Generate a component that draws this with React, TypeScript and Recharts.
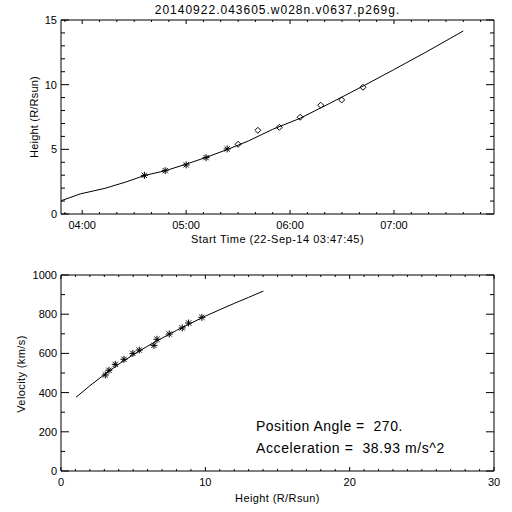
import React from "react";
import { ComposedChart, Line, Scatter, XAxis, YAxis } from "recharts";

// top panel: height vs time (minutes since 00:00 on 22-Sep-14)
const starTimes = [275.9, 287.9, 300.0, 311.5, 323.7];
const starHeights = [2.99, 3.35, 3.8, 4.36, 5.03];
const diamondTimes = [330.0, 341.4, 353.8, 365.8, 377.7, 389.8, 402.1];
const diamondHeights = [5.39, 6.47, 6.7, 7.48, 8.41, 8.82, 9.8];
const fitTimes = [227.9, 238.8, 253.3, 265.8, 276, 288, 300, 312, 324, 336, 350, 365.8, 383, 402.3, 419.6, 438.9, 460];
const fitHeights = [1.03, 1.55, 1.99, 2.5, 2.98, 3.35, 3.85, 4.4, 5.0, 5.65, 6.55, 7.4, 8.56, 9.9, 11.14, 12.55, 14.15];

// bottom panel: velocity vs height
const velHeights = [3.07, 3.32, 3.76, 4.36, 4.98, 5.42, 6.44, 6.65, 7.5, 8.4, 8.84, 9.76];
const velValues = [490, 514, 544, 570, 600, 617, 641, 672, 699, 730, 755, 784];
const velFitHeights = [1.04, 2, 3, 4, 5, 6, 7, 8, 9, 10, 11, 12, 13, 14.02];
const velFitValues = [376, 435, 492, 545, 593, 637, 678, 717, 754, 790, 823, 855, 886, 918];

const timeMajor = [240, 300, 360, 420];
const timeTicks = [230, 240, 250, 260, 270, 280, 290, 300, 310, 320, 330, 340, 350, 360, 370, 380, 390, 400, 410, 420, 430, 440, 450, 460, 470];
const hMajor = [0, 5, 10, 15];
const hTicks = [0, 1, 2, 3, 4, 5, 6, 7, 8, 9, 10, 11, 12, 13, 14, 15];
const rMajor = [0, 10, 20, 30];
const rTicks = [0, 1, 2, 3, 4, 5, 6, 7, 8, 9, 10, 11, 12, 13, 14, 15, 16, 17, 18, 19, 20, 21, 22, 23, 24, 25, 26, 27, 28, 29, 30];
const vMajor = [0, 200, 400, 600, 800, 1000];
const vTicks = [0, 100, 200, 300, 400, 500, 600, 700, 800, 900, 1000];

const title = "20140922.043605.w028n.v0637.p269g.";
const notes = ["Position Angle =  270.", "Acceleration =  38.93 m/s^2"];

const FONT = "'Liberation Sans', Arial, sans-serif";

const pairs = (xs: number[], ys: number[], kx: string, ky: string) =>
  xs.map((x, i) => ({ [kx]: x, [ky]: ys[i] }));

const hhmm = (m: number) => {
  const h = Math.floor(m / 60);
  const mm = Math.round(m - h * 60);
  return `${String(h).padStart(2, "0")}:${String(mm).padStart(2, "0")}`;
};

type Side = "bottom" | "top" | "left" | "right";

function axisTick(side: Side, majors: number[], len: number, fmt?: (v: number) => string) {
  return (p: any) => {
    const v = p.payload.value;
    const major = majors.includes(v);
    const l = major ? len : len / 2;
    const { x, y } = p;
    let line;
    if (side === "bottom") line = <line x1={x} x2={x} y1={y} y2={y - l} />;
    else if (side === "top") line = <line x1={x} x2={x} y1={y} y2={y + l} />;
    else if (side === "left") line = <line x1={x} x2={x + l} y1={y} y2={y} />;
    else line = <line x1={x} x2={x - l} y1={y} y2={y} />;
    let label = null;
    if (fmt && major) {
      const s = fmt(v);
      label =
        side === "bottom" ? (
          <text x={x} y={y + 15} textAnchor="middle" fontSize={11} fontFamily={FONT} fill="#000" stroke="none">{s}</text>
        ) : (
          <text x={x - 4} y={y + 4} textAnchor="end" fontSize={11} fontFamily={FONT} fill="#000" stroke="none">{s}</text>
        );
    }
    return (
      <g stroke="#000" strokeWidth={1}>
        {line}
        {label}
      </g>
    );
  };
}

const Asterisk = (p: any) => {
  const { cx, cy } = p;
  const r = 3.5;
  const d = 2.6;
  return (
    <g stroke="#000" strokeWidth={1}>
      <line x1={cx - r} x2={cx + r} y1={cy} y2={cy} />
      <line x1={cx} x2={cx} y1={cy - r} y2={cy + r} />
      <line x1={cx - d} x2={cx + d} y1={cy - d} y2={cy + d} />
      <line x1={cx - d} x2={cx + d} y1={cy + d} y2={cy - d} />
    </g>
  );
};

const Diamond = (p: any) => {
  const { cx, cy } = p;
  const r = 3;
  return <polygon points={`${cx},${cy - r} ${cx + r},${cy} ${cx},${cy + r} ${cx - r},${cy}`} fill="none" stroke="#000" strokeWidth={1} />;
};

const axisLine = { stroke: "#000", strokeWidth: 1 };
const txt: React.CSSProperties = { position: "absolute", fontFamily: FONT, color: "#000", whiteSpace: "pre", lineHeight: 1 };

export default function App() {
  const fit = pairs(fitTimes, fitHeights, "t", "h");
  const stars = pairs(starTimes, starHeights, "t", "h");
  const diamonds = pairs(diamondTimes, diamondHeights, "t", "h");
  const vfit = pairs(velFitHeights, velFitValues, "r", "v");
  const vpts = pairs(velHeights, velValues, "r", "v");

  return (
    <div style={{ position: "absolute", left: 0, top: 0, width: 512, height: 512, background: "#fff" }}>
      <div style={{ position: "absolute", left: 0, top: 0 }}>
        <ComposedChart width={512} height={256} margin={{ top: 0, right: 0, bottom: 0, left: 0 }}>
          <XAxis xAxisId="b" dataKey="t" type="number" domain={[227.75, 477.75]} allowDataOverflow ticks={timeTicks} interval={0}
            height={42} tickSize={0} tickMargin={0} tickLine={false} axisLine={axisLine} tick={axisTick("bottom", timeMajor, 4, hhmm)} />
          <XAxis xAxisId="t" orientation="top" dataKey="t" type="number" domain={[227.75, 477.75]} allowDataOverflow ticks={timeTicks} interval={0}
            height={20} tickSize={0} tickMargin={0} tickLine={false} axisLine={axisLine} tick={axisTick("top", timeMajor, 4)} />
          <YAxis yAxisId="l" type="number" domain={[0, 15]} allowDataOverflow ticks={hTicks} interval={0}
            width={61} tickSize={0} tickMargin={0} tickLine={false} axisLine={axisLine} tick={axisTick("left", hMajor, 8, String)} />
          <YAxis yAxisId="r" orientation="right" type="number" domain={[0, 15]} allowDataOverflow ticks={hTicks} interval={0}
            width={18} tickSize={0} tickMargin={0} tickLine={false} axisLine={axisLine} tick={axisTick("right", hMajor, 8)} />
          <Line xAxisId="b" yAxisId="l" data={fit} dataKey="h" type="linear" stroke="#000" strokeWidth={1} dot={false} isAnimationActive={false} />
          <Scatter xAxisId="b" yAxisId="l" data={stars} dataKey="h" shape={Asterisk} isAnimationActive={false} />
          <Scatter xAxisId="t" yAxisId="r" data={diamonds} dataKey="h" shape={Diamond} isAnimationActive={false} />
        </ComposedChart>
      </div>
      <div style={{ position: "absolute", left: 0, top: 256 }}>
        <ComposedChart width={512} height={256} margin={{ top: 0, right: 0, bottom: 0, left: 0 }}>
          <XAxis xAxisId="b" dataKey="r" type="number" domain={[0, 30]} allowDataOverflow ticks={rTicks} interval={0}
            height={41} tickSize={0} tickMargin={0} tickLine={false} axisLine={axisLine} tick={axisTick("bottom", rMajor, 4, String)} />
          <XAxis xAxisId="t" orientation="top" dataKey="r" type="number" domain={[0, 30]} allowDataOverflow ticks={rTicks} interval={0}
            height={19} tickSize={0} tickMargin={0} tickLine={false} axisLine={axisLine} tick={axisTick("top", rMajor, 4)} />
          <YAxis yAxisId="l" type="number" domain={[0, 1000]} allowDataOverflow ticks={vTicks} interval={0}
            width={61} tickSize={0} tickMargin={0} tickLine={false} axisLine={axisLine} tick={axisTick("left", vMajor, 8, String)} />
          <YAxis yAxisId="r" orientation="right" type="number" domain={[0, 1000]} allowDataOverflow ticks={vTicks} interval={0}
            width={18} tickSize={0} tickMargin={0} tickLine={false} axisLine={axisLine} tick={axisTick("right", vMajor, 8)} />
          <Line xAxisId="b" yAxisId="l" data={vfit} dataKey="v" type="linear" stroke="#000" strokeWidth={1} dot={false} isAnimationActive={false} />
          <Scatter xAxisId="t" yAxisId="r" data={vpts} dataKey="v" shape={Asterisk} isAnimationActive={false} />
        </ComposedChart>
      </div>

      <div style={{ ...txt, left: 0, width: 555, top: 4, textAlign: "center", fontSize: 12, letterSpacing: 1 }}>{title}</div>
      <div style={{ ...txt, left: 0, width: 555, top: 234, textAlign: "center", fontSize: 11, letterSpacing: 0.5 }}>Start Time (22-Sep-14 03:47:45)</div>
      <div style={{ ...txt, left: 0, width: 555, top: 493, textAlign: "center", fontSize: 11, letterSpacing: 0.4 }}>Height (R/Rsun)</div>
      <div style={{ ...txt, left: 34, top: 117, width: 0, height: 0 }}>
        <div style={{ position: "absolute", transform: "translate(-50%,-50%) rotate(-90deg)", fontSize: 11, letterSpacing: 0.2 }}>Height (R/Rsun)</div>
      </div>
      <div style={{ ...txt, left: 21, top: 374, width: 0, height: 0 }}>
        <div style={{ position: "absolute", transform: "translate(-50%,-50%) rotate(-90deg)", fontSize: 11, letterSpacing: 0.4 }}>Velocity (km/s)</div>
      </div>
      <div style={{ ...txt, left: 256, top: 419, fontSize: 14, letterSpacing: 0.5 }}>{notes[0]}</div>
      <div style={{ ...txt, left: 256, top: 441, fontSize: 14, letterSpacing: 0.6 }}>{notes[1]}</div>
    </div>
  );
}
